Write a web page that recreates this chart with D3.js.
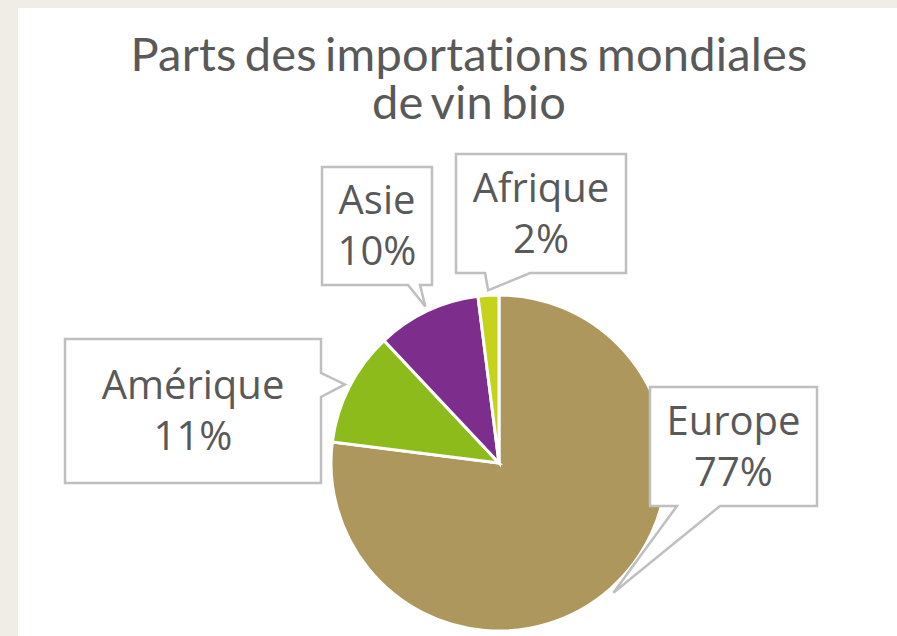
<!DOCTYPE html>
<html>
<head>
  <meta charset="utf-8">
  <script src="https://d3js.org/d3.v7.min.js"></script>
  <style type="text/css">
    body { margin: 0; background: #f0ede6; }
    .title {
      font-family: Lato, sans-serif;
      fill: #595959;
      font-size: 47px;
      letter-spacing: 0.2px;
      word-spacing: -4px;
    }
    .label {
      font-family: "Open Sans", sans-serif;
      fill: #595959;
      font-size: 40px;
    }
  </style>
</head>
<body>
  <script type="text/javascript">
    // Data
    var regions = ['Europe', 'Amérique', 'Asie', 'Afrique'];
    var shares = [77, 11, 10, 2];
    var colors = ['#ad975c', '#8dbb1b', '#7d2e8d', '#c6d31c'];
    var titleLines = ['Parts des importations mondiales', 'de vin bio'];

    // Callout boxes (layout only): box, pointer side and base along that side
    var callouts = [
      {x: 650, y: 387, w: 167, h: 119, side: 'bottom', b0: 677, b1: 720},
      {x: 65,  y: 339, w: 256, h: 144, side: 'right',  b0: 373, b1: 397},
      {x: 322, y: 167, w: 110, h: 118, side: 'bottom', b0: 408, b1: 420},
      {x: 456, y: 154, w: 170, h: 119, side: 'bottom', b0: 485, b1: 530}
    ];

    var width = 897, height = 636,
        cx = 499, cy = 463, radius = 168;

    var svg = d3.select('body').append('svg')
        .attr('width', width)
        .attr('height', height);

    // white panel
    svg.append('rect')
        .attr('x', 18).attr('y', 8)
        .attr('width', width - 18).attr('height', height - 8)
        .attr('fill', '#ffffff');

    // Title
    svg.selectAll('.title')
        .data(titleLines)
      .enter().append('text')
        .attr('class', 'title')
        .attr('x', 469)
        .attr('y', function(d, i) { return 71 + i * 48; })
        .attr('text-anchor', 'middle')
        .text(function(d) { return d; });

    // Pie
    var data = regions.map(function(r, i) { return {name: r, value: shares[i], color: colors[i]}; });
    var pie = d3.pie().sort(null).value(function(d) { return d.value; });
    var arc = d3.arc().innerRadius(0).outerRadius(radius);
    var tipArc = d3.arc().innerRadius(173).outerRadius(173);
    var arcs = pie(data);

    var g = svg.append('g').attr('transform', 'translate(' + cx + ',' + cy + ')');
    g.selectAll('path')
        .data(arcs)
      .enter().append('path')
        .attr('d', arc)
        .attr('fill', function(d) { return d.data.color; })
        .attr('stroke', '#ffffff')
        .attr('stroke-width', 3);

    // Callouts
    function calloutPath(c, tip) {
      var x0 = c.x, y0 = c.y, x1 = c.x + c.w, y1 = c.y + c.h;
      var p = [];
      if (c.side === 'bottom') {
        p = [[x0, y0], [x1, y0], [x1, y1], [c.b1, y1], tip, [c.b0, y1], [x0, y1]];
      } else {
        p = [[x0, y0], [x1, y0], [x1, c.b0], tip, [x1, c.b1], [x1, y1], [x0, y1]];
      }
      return 'M' + p.map(function(q) { return q[0] + ',' + q[1]; }).join('L') + 'Z';
    }

    arcs.forEach(function(d, i) {
      var c = callouts[i];
      var t = tipArc.centroid(d);
      var tip = [cx + t[0], cy + t[1]];
      svg.append('path')
          .attr('d', calloutPath(c, tip))
          .attr('fill', '#ffffff')
          .attr('stroke', '#bfbfbf')
          .attr('stroke-width', 2.5)
          .attr('stroke-linejoin', 'miter');

      var tx = c.x + c.w / 2;
      var ty = c.y + c.h / 2 - 12;
      var txt = svg.append('text')
          .attr('class', 'label')
          .attr('text-anchor', 'middle');
      txt.append('tspan').attr('x', tx).attr('y', ty).text(d.data.name);
      txt.append('tspan').attr('x', tx).attr('y', ty + 51).text(d.data.value + '%');
    });
  </script>
</body>
</html>
